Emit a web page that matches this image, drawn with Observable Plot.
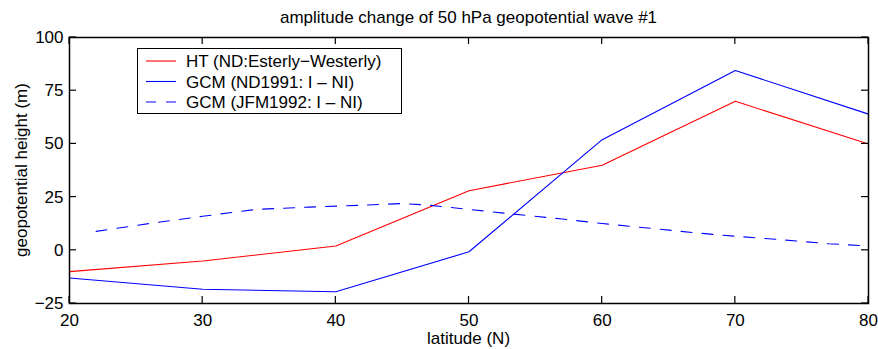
<!DOCTYPE html>
<html><head><meta charset="utf-8">
<script src="https://cdn.jsdelivr.net/npm/d3@7"></script>
<script src="https://cdn.jsdelivr.net/npm/@observablehq/plot@0.6"></script>
<style>
body{margin:0;background:#fff}
svg{font-family:"Liberation Sans",Arial,Helvetica,sans-serif}
</style>
</head><body><div id="chart"></div>
<script>
// ---- data ----
const latitudes = [20, 30, 40, 50, 60, 70, 80];
const htValues = [-10, -5, 2, 28, 40, 70, 50];
const gcm1991Values = [-13, -18.3, -19.5, -0.7, 52, 84.5, 64];
const jfmLatitudes = [22, 26, 30, 34, 38, 42, 45, 47, 50, 54, 57, 60, 64, 67, 70, 73, 77, 80];
const jfmValues = [8.9, 12.6, 16.0, 19.2, 20.3, 21.2, 22.0, 21.2, 19.2, 16.6, 14.7, 12.6, 10.1, 8.2, 6.6, 5.2, 3.1, 2.0];
const xTicks = [20, 30, 40, 50, 60, 70, 80];
const yTicks = [-25, 0, 25, 50, 75, 100];
const seriesNames = ["HT (ND:Esterly\u2212Westerly)", "GCM (ND1991: I \u2013 NI)", "GCM (JFM1992: I \u2013 NI)"];
const seriesColors = ["#ff0000", "#0000ff", "#0000ff"];
const seriesDash = [null, null, "11,10"];
const titleText = "amplitude change of 50 hPa geopotential wave #1";
const xLabel = "latitude (N)";
const yLabel = "geopotential height (m)";

// ---- tables ----
const htRows = latitudes.map((lat, i) => ({lat, v: htValues[i]}));
const gcmRows = latitudes.map((lat, i) => ({lat, v: gcm1991Values[i]}));
const jfmRows = jfmLatitudes.map((lat, i) => ({lat, v: jfmValues[i]}));
const fmt = d => d < 0 ? "\u2212" + Math.abs(d) : String(d);
const FS = 17;

const chart = Plot.plot({
  width: 878, height: 349,
  marginLeft: 69, marginRight: 10, marginTop: 37, marginBottom: 46,
  style: {background: "#fff", color: "#000", fontSize: FS + "px", fontFamily: "'Liberation Sans', Arial, sans-serif"},
  x: {domain: [20, 80]},
  y: {domain: [-25, 100]},
  marks: [
    Plot.axisX(xTicks, {tickSize: 0, tickPadding: 10, label: null, fontSize: FS, tickFormat: fmt}),
    Plot.axisY(yTicks, {tickSize: 0, tickPadding: 6, label: null, fontSize: FS, tickFormat: fmt}),
    Plot.line(htRows, {x: "lat", y: "v", stroke: seriesColors[0], strokeWidth: 1.1}),
    Plot.line(gcmRows, {x: "lat", y: "v", stroke: seriesColors[1], strokeWidth: 1.1}),
    Plot.line(jfmRows, {x: "lat", y: "v", stroke: seriesColors[2], strokeWidth: 1.1, strokeDasharray: seriesDash[2]}),
    Plot.frame({stroke: "#000", strokeWidth: 1.5})
  ]
});
document.getElementById("chart").appendChild(chart);

const xs = chart.scale("x"), ys = chart.scale("y");
const [x0, x1] = xs.range, [y0, y1] = ys.range; // y0 bottom, y1 top
const svg = d3.select(chart);
const g = svg.append("g").attr("stroke", "#000").attr("stroke-width", 1.2);
const T = 7;
xTicks.forEach(t => {
  const px = xs.apply(t);
  g.append("line").attr("x1", px).attr("x2", px).attr("y1", y0).attr("y2", y0 - T);
  g.append("line").attr("x1", px).attr("x2", px).attr("y1", y1).attr("y2", y1 + T);
});
yTicks.forEach(t => {
  const py = ys.apply(t);
  g.append("line").attr("y1", py).attr("y2", py).attr("x1", x0).attr("x2", x0 + T);
  g.append("line").attr("y1", py).attr("y2", py).attr("x1", x1).attr("x2", x1 - T);
});

// title and axis labels
svg.append("text").attr("x", (x0 + x1) / 2).attr("y", 23).attr("text-anchor", "middle")
  .attr("font-size", FS).attr("fill", "#000").text(titleText);
svg.append("text").attr("x", (x0 + x1) / 2).attr("y", 344).attr("text-anchor", "middle")
  .attr("font-size", FS).attr("fill", "#000").text(xLabel);
svg.append("text").attr("transform", `translate(27,${(y0 + y1) / 2}) rotate(-90)`).attr("text-anchor", "middle")
  .attr("font-size", FS).attr("fill", "#000").text(yLabel);

// legend
const lg = svg.append("g");
lg.append("rect").attr("x", 137.5).attr("y", 48.5).attr("width", 264).attr("height", 65)
  .attr("fill", "#fff").attr("stroke", "#000").attr("stroke-width", 1);
const rowY = [61, 81.5, 102];
seriesNames.forEach((name, i) => {
  lg.append("line").attr("x1", 146).attr("x2", 176).attr("y1", rowY[i]).attr("y2", rowY[i])
    .attr("stroke", seriesColors[i]).attr("stroke-width", 1.1)
    .attr("stroke-dasharray", seriesDash[i] ? "10,10" : null);
  lg.append("text").attr("x", 186).attr("y", rowY[i] + 6).attr("text-anchor", "start")
    .attr("font-size", FS).attr("fill", "#000").text(name);
});
</script>
</body></html>
